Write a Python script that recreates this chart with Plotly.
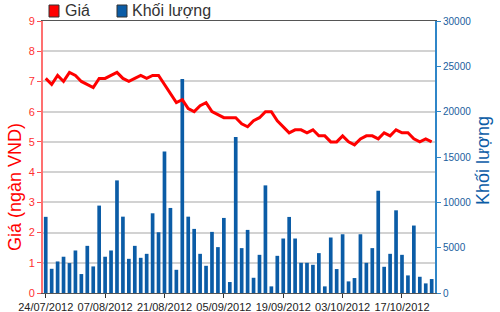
import plotly.graph_objects as go

dates = [
    "24/07/2012", "25/07/2012", "26/07/2012", "27/07/2012", "30/07/2012", "31/07/2012",
    "01/08/2012", "02/08/2012", "03/08/2012", "06/08/2012", "07/08/2012", "08/08/2012",
    "09/08/2012", "10/08/2012", "13/08/2012", "14/08/2012", "15/08/2012", "16/08/2012",
    "17/08/2012", "20/08/2012", "21/08/2012", "22/08/2012", "23/08/2012", "24/08/2012",
    "27/08/2012", "28/08/2012", "29/08/2012", "30/08/2012", "31/08/2012",
    "04/09/2012", "05/09/2012", "06/09/2012", "07/09/2012", "10/09/2012", "11/09/2012",
    "12/09/2012", "13/09/2012", "14/09/2012", "17/09/2012", "18/09/2012", "19/09/2012",
    "20/09/2012", "21/09/2012", "24/09/2012", "25/09/2012", "26/09/2012", "27/09/2012",
    "28/09/2012",
    "01/10/2012", "02/10/2012", "03/10/2012", "04/10/2012", "05/10/2012", "08/10/2012",
    "09/10/2012", "10/10/2012", "11/10/2012", "12/10/2012", "15/10/2012", "16/10/2012",
    "17/10/2012", "18/10/2012", "19/10/2012", "22/10/2012", "23/10/2012", "24/10/2012",
]

price = [
    7.1, 6.9, 7.2, 7.0, 7.3, 7.2, 7.0, 6.9, 6.8, 7.1,
    7.1, 7.2, 7.3, 7.1, 7.0, 7.1, 7.2, 7.1, 7.2, 7.2,
    6.9, 6.6, 6.3, 6.4, 6.1, 6.0, 6.2, 6.3, 6.0, 5.9,
    5.8, 5.8, 5.8, 5.6, 5.5, 5.7, 5.8, 6.0, 6.0, 5.7,
    5.5, 5.3, 5.4, 5.4, 5.3, 5.4, 5.2, 5.2, 5.0, 5.0,
    5.2, 5.0, 4.9, 5.1, 5.2, 5.2, 5.1, 5.3, 5.2, 5.4,
    5.3, 5.3, 5.1, 5.0, 5.1, 5.0,
]

volume = [
    8400, 2670, 3480, 4000, 3300, 4690, 2090, 5200, 2930, 9640,
    4000, 4690, 12420, 8420, 3770, 5200, 3880, 4320, 8790, 6700,
    15600, 9380, 2560, 23600, 8420, 7070, 4320, 3000, 6740, 5060,
    8280, 1210, 17200, 4950, 6960, 1680, 4210, 11870, 730, 4100,
    6010, 8390, 6010, 3330, 3330, 3110, 4400, 730, 6120, 2640,
    6480, 1280, 1650, 6480, 3330, 4950, 11280, 2890, 4320, 9120,
    4210, 1940, 7440, 1790, 1060, 1540,
]

tick_dates = ["24/07/2012", "07/08/2012", "21/08/2012", "05/09/2012",
              "19/09/2012", "03/10/2012", "17/10/2012"]

series_names = ["Giá", "Khối lượng"]
left_title = "Giá (ngàn VND)"
right_title = "Khối lượng"

W, H = 500, 312
L, R, T, B = 43, 65, 21, 19
PW, PH = W - L - R, H - T - B

def px(x):
    return (x - L) / PW

def py(y):
    return (H - B - y) / PH

FONT = "Liberation Sans, Arial, sans-serif"
RED = "#ff0000"
BLUE = "#0b5ca6"

fig = go.Figure()
fig.add_trace(go.Bar(x=dates, y=volume, yaxis="y", marker=dict(color=BLUE, line=dict(width=0)),
                     name=series_names[1], showlegend=False))
fig.add_trace(go.Scatter(x=dates, y=price, yaxis="y2", mode="lines",
                         line=dict(color=RED, width=3), name=series_names[0], showlegend=False))

fig.update_layout(
    width=W, height=H,
    margin=dict(l=L, r=R, t=T, b=B, pad=0, autoexpand=False),
    paper_bgcolor="white", plot_bgcolor="white",
    bargap=0.38,
    font=dict(family=FONT),
    xaxis=dict(type="category", range=[-0.46, 65.56], tickmode="array",
               tickvals=tick_dates, ticktext=tick_dates, automargin=False,
               tickfont=dict(size=11, color="#222"), ticks="outside", ticklen=4,
               tickcolor="#333", showline=True, linecolor="#555", linewidth=1,
               mirror=True, showgrid=False, zeroline=False),
    yaxis=dict(side="right", range=[0, 30000], dtick=5000, tickformat="d", automargin=False,
               tickfont=dict(size=10, color="#1a5e9e"), ticks="outside", ticklen=4,
               tickcolor="#2f86c8", showline=True, linecolor="#2f86c8", linewidth=2,
               showgrid=False, zeroline=False),
    yaxis2=dict(overlaying="y", side="left", range=[0, 9], dtick=1, automargin=False,
                tickfont=dict(size=11, color="#ff3030"), ticks="outside", ticklen=4,
                tickcolor="#ff5050", showline=True, linecolor="#ff7070", linewidth=2,
                showgrid=True, gridcolor="#d2d2d2", gridwidth=2, zeroline=False),
)

# axis titles
fig.add_annotation(text=left_title, xref="paper", yref="paper", x=px(15), y=py(187),
                   textangle=-90, showarrow=False, font=dict(size=18, color=RED),
                   xanchor="center", yanchor="middle")
fig.add_annotation(text=right_title, xref="paper", yref="paper", x=px(483), y=py(160),
                   textangle=-90, showarrow=False, font=dict(size=18, color=BLUE),
                   xanchor="center", yanchor="middle")

# custom legend
legend_items = [(series_names[0], RED, 49, 63), (series_names[1], BLUE, 117, 130)]
for name, col, sx, tx in legend_items:
    fig.add_shape(type="rect", xref="paper", yref="paper",
                  x0=px(sx), x1=px(sx + 10), y0=py(17), y1=py(5),
                  fillcolor=col, line=dict(color="#333", width=1))
    fig.add_annotation(text=name, xref="paper", yref="paper", x=px(tx), y=py(11),
                       showarrow=False, xanchor="left", yanchor="middle",
                       font=dict(size=16, color="#333"))

fig.write_html("out.html")
